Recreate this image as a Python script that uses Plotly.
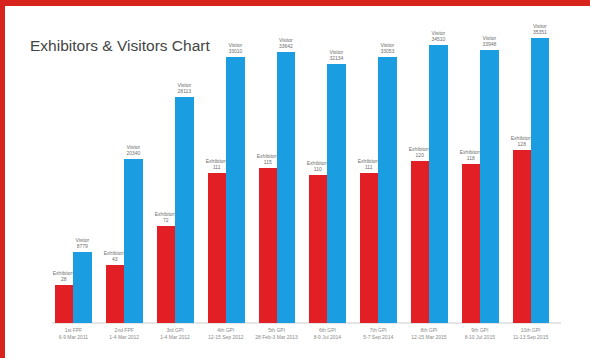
import plotly.graph_objects as go

# Fair editions (two-line tick labels)
editions = [
    "1st FPF<br>6-9 Mar 2011",
    "2nd FPF<br>1-4 Mar 2012",
    "3rd GPI<br>1-4 Mar 2012",
    "4th GPI<br>12-15 Sep 2012",
    "5th GPI<br>28 Feb-3 Mar 2013",
    "6th GPI<br>8-9 Jul 2014",
    "7th GPI<br>5-7 Sep 2014",
    "8th GPI<br>12-15 Mar 2015",
    "9th GPI<br>8-10 Jul 2015",
    "10th GPI<br>11-13 Sep 2015",
]
exhibitors = [28, 43, 72, 111, 115, 110, 111, 120, 118, 128]
visitors = [8779, 20340, 28113, 33010, 33642, 32134, 33053, 34510, 33948, 35351]

RED = "#e31f26"
BLUE = "#1b9de2"
LABEL = "#6f6f6f"

W, H = 590, 358
ML, MR, MT, MB = 48, 34, 30, 35
PW, PH = W - ML - MR, H - MT - MB

fig = go.Figure()
fig.add_trace(go.Bar(
    x=list(range(len(editions))), y=exhibitors, yaxis="y",
    marker=dict(color=RED, line=dict(width=0)),
    width=0.355, offset=-0.355,
    text=[f"Exhibitors<br>{v}" for v in exhibitors],
    textposition="outside", constraintext="none", cliponaxis=False,
    textfont=dict(size=5, color=LABEL, family="Liberation Sans"),
    name="Exhibitors",
))
fig.add_trace(go.Bar(
    x=list(range(len(editions))), y=visitors, yaxis="y2",
    marker=dict(color=BLUE, line=dict(width=0)),
    width=0.37, offset=0,
    text=[f"Visitor<br>{v}" for v in visitors],
    textposition="outside", constraintext="none", cliponaxis=False,
    textfont=dict(size=5, color=LABEL, family="Liberation Sans"),
    name="Visitors",
))


def px(x, y):
    """Convert page pixels to paper coordinates."""
    return (x - ML) / PW, 1 - (y - MT) / PH


# red frame along the top and left edges
x0, y0 = px(0, 0)
x1, y1 = px(W, 6)
x2, _ = px(5, 0)
_, y3 = px(0, H)
shapes = [
    dict(type="rect", xref="paper", yref="paper", x0=x0, x1=x1, y0=y1, y1=y0,
         fillcolor="#d8231c", line=dict(width=0), layer="above"),
    dict(type="rect", xref="paper", yref="paper", x0=x0, x1=x2, y0=y3, y1=y0,
         fillcolor="#d8231c", line=dict(width=0), layer="above"),
]
# baseline
bx0, by = px(52, 323)
bx1, _ = px(561, 323)
shapes.append(dict(type="line", xref="paper", yref="paper", x0=bx0, x1=bx1, y0=by, y1=by,
                   line=dict(color="#cccccc", width=1), layer="below"))

fig.update_layout(
    width=W, height=H,
    margin=dict(l=ML, r=MR, t=MT, b=MB),
    paper_bgcolor="white", plot_bgcolor="white",
    showlegend=False,
    bargap=0,
    title=dict(text="Exhibitors &amp; Visitors Chart", xref="container", yref="container",
               x=30 / W, xanchor="left", y=1 - 46 / H, yanchor="middle",
               font=dict(size=15.5, color="#444444", family="Liberation Sans")),
    xaxis=dict(range=[-0.5, 9.5], tickvals=list(range(len(editions))), ticktext=editions,
               showgrid=False, zeroline=False, showline=False, ticks="",
               ticklabelstandoff=3,
               tickfont=dict(size=5, color="#8a8a8a", family="Liberation Sans")),
    yaxis=dict(range=[0, PH / 1.35], visible=False, showgrid=False, zeroline=False),
    yaxis2=dict(range=[0, PH / 0.00805], overlaying="y", visible=False,
                showgrid=False, zeroline=False),
    shapes=shapes,
)

fig.write_html("out.html")
